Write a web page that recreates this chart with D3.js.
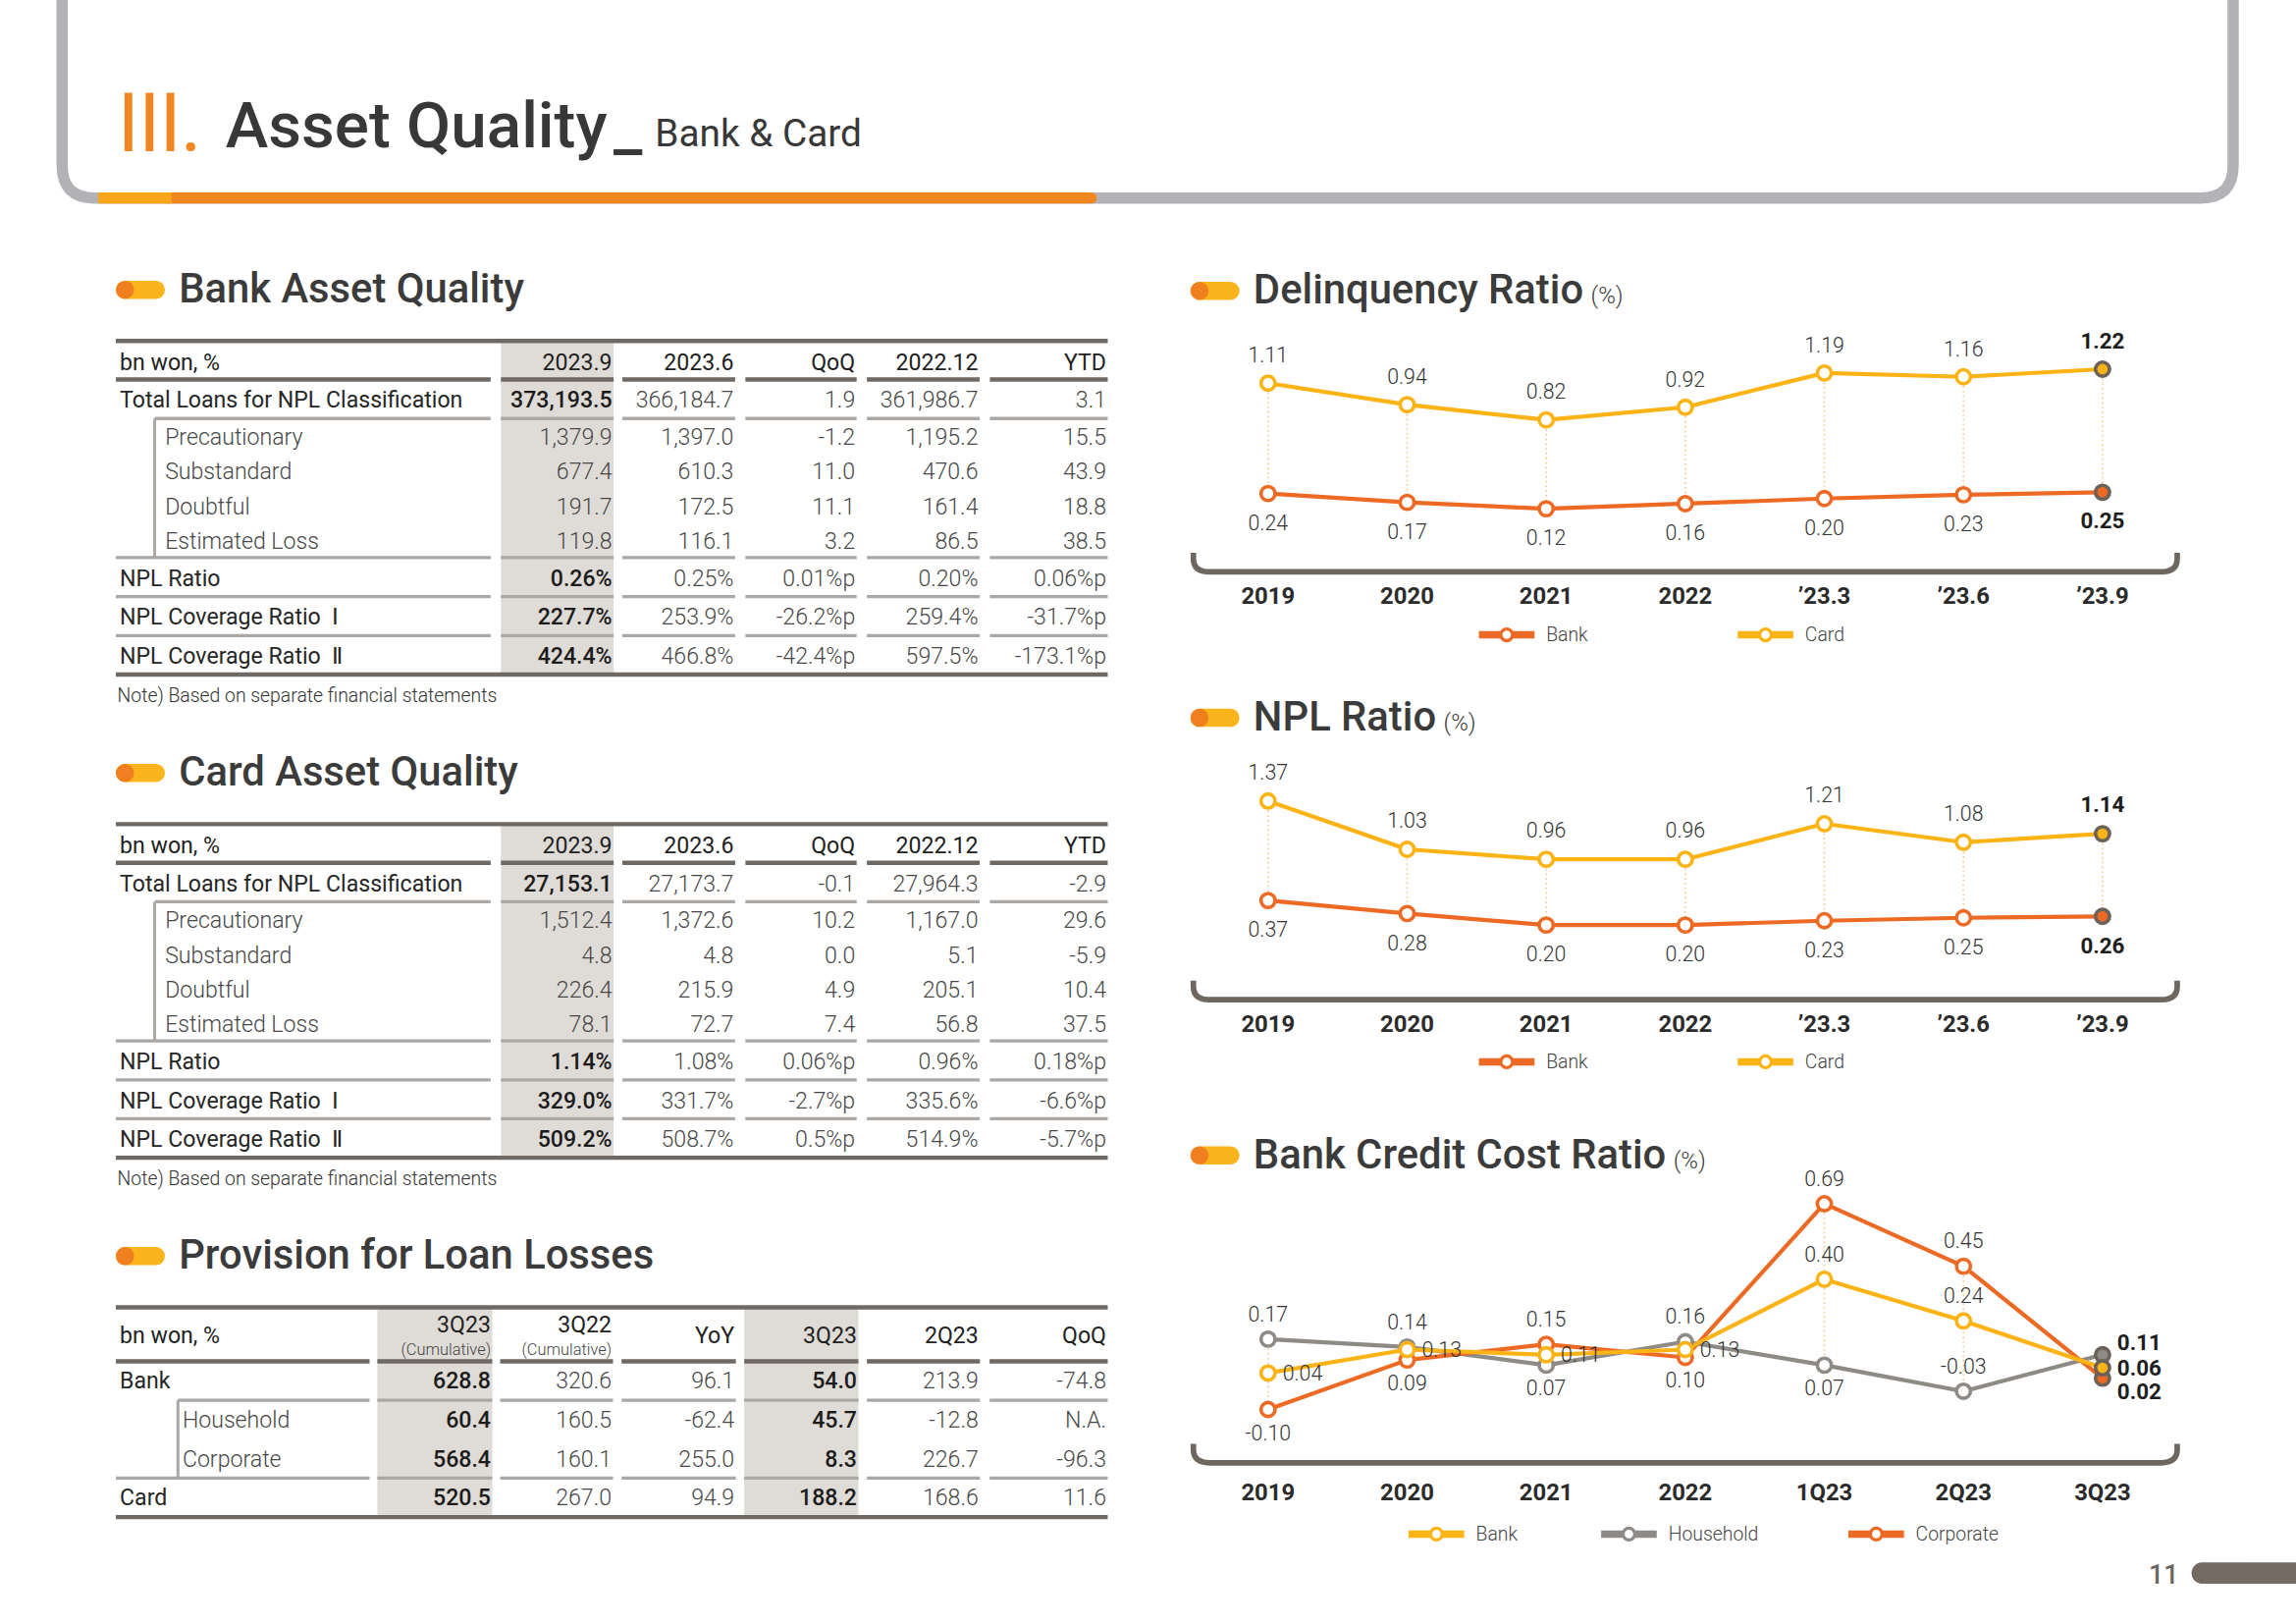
<!DOCTYPE html>
<html>
<head>
<meta charset="utf-8">
<script src="https://cdn.jsdelivr.net/npm/d3@7"></script>
<style>
  html, body { margin: 0; padding: 0; background: #fff; }
  svg { display: block; font-family: Roboto, 'Noto Sans', sans-serif; }
</style>
</head>
<body>
<script>
// ---------- data ----------
const bankCols = ['2023.9', '2023.6', 'QoQ', '2022.12', 'YTD'];
const assetRows = ['Total Loans for NPL Classification', 'Precautionary', 'Substandard', 'Doubtful',
  'Estimated Loss', 'NPL Ratio', 'NPL Coverage Ratio  Ⅰ', 'NPL Coverage Ratio  Ⅱ'];
const bankValues = [
  ['373,193.5', '366,184.7', '1.9', '361,986.7', '3.1'],
  ['1,379.9', '1,397.0', '-1.2', '1,195.2', '15.5'],
  ['677.4', '610.3', '11.0', '470.6', '43.9'],
  ['191.7', '172.5', '11.1', '161.4', '18.8'],
  ['119.8', '116.1', '3.2', '86.5', '38.5'],
  ['0.26%', '0.25%', '0.01%p', '0.20%', '0.06%p'],
  ['227.7%', '253.9%', '-26.2%p', '259.4%', '-31.7%p'],
  ['424.4%', '466.8%', '-42.4%p', '597.5%', '-173.1%p']
];
const cardValues = [
  ['27,153.1', '27,173.7', '-0.1', '27,964.3', '-2.9'],
  ['1,512.4', '1,372.6', '10.2', '1,167.0', '29.6'],
  ['4.8', '4.8', '0.0', '5.1', '-5.9'],
  ['226.4', '215.9', '4.9', '205.1', '10.4'],
  ['78.1', '72.7', '7.4', '56.8', '37.5'],
  ['1.14%', '1.08%', '0.06%p', '0.96%', '0.18%p'],
  ['329.0%', '331.7%', '-2.7%p', '335.6%', '-6.6%p'],
  ['509.2%', '508.7%', '0.5%p', '514.9%', '-5.7%p']
];
const provCols = ['3Q23', '3Q22', 'YoY', '3Q23', '2Q23', 'QoQ'];
const provColNotes = ['(Cumulative)', '(Cumulative)', '', '', '', ''];
const provRows = ['Bank', 'Household', 'Corporate', 'Card'];
const provValues = [
  ['628.8', '320.6', '96.1', '54.0', '213.9', '-74.8'],
  ['60.4', '160.5', '-62.4', '45.7', '-12.8', 'N.A.'],
  ['568.4', '160.1', '255.0', '8.3', '226.7', '-96.3'],
  ['520.5', '267.0', '94.9', '188.2', '168.6', '11.6']
];

const ratioCats = ['2019', '2020', '2021', '2022', '’23.3', '’23.6', '’23.9'];
const delinqBank = [0.24, 0.17, 0.12, 0.16, 0.20, 0.23, 0.25];
const delinqCard = [1.11, 0.94, 0.82, 0.92, 1.19, 1.16, 1.22];
const nplBank = [0.37, 0.28, 0.20, 0.20, 0.23, 0.25, 0.26];
const nplCard = [1.37, 1.03, 0.96, 0.96, 1.21, 1.08, 1.14];

const creditCats = ['2019', '2020', '2021', '2022', '1Q23', '2Q23', '3Q23'];
const creditBank = [0.04, 0.13, 0.11, 0.13, 0.40, 0.24, 0.06];
const creditHousehold = [0.17, 0.14, 0.07, 0.16, 0.07, -0.03, 0.11];
const creditCorporate = [-0.10, 0.09, 0.15, 0.10, 0.69, 0.45, 0.02];

// ---------- colours ----------
const orange = '#ec6a24';
const yellow = '#fbb316';
const gray = '#8e8a86';
const markDark = '#6b625a';
const lineDark = '#6e6964';
const lineLight = '#aaa7a4';
const shadeFill = '#dfdbd7';

// page is laid out in 1568 x 1109 units, scaled up to the window
const svg = d3.select('body').append('svg')
  .attr('width', 2339)
  .attr('height', 1654)
  .attr('viewBox', '0 0 1568 1109');

// ---------- header ----------
svg.append('path')
  .attr('d', 'M42.3,0 V113 Q42.3,135.2 64.5,135.2 H1503 Q1525.2,135.2 1525.2,113 V0')
  .attr('fill', 'none')
  .attr('stroke', '#b3b2b7')
  .attr('stroke-width', 7.7);
svg.append('rect').attr('x', 110).attr('y', 131.4).attr('width', 639).attr('height', 7.6)
  .attr('rx', 3.8).attr('fill', '#f28720');
svg.append('rect').attr('x', 67).attr('y', 131.4).attr('width', 50).attr('height', 7.6)
  .attr('fill', '#f9a61a');

svg.append('text')
  .attr('x', 80).attr('y', 103.3)
  .attr('font-size', 55.7).attr('font-weight', 400).attr('fill', '#f0861f')
  .attr('letter-spacing', -0.8)
  .text('III.');
const head = svg.append('text')
  .attr('x', 153.9).attr('y', 100.6)
  .attr('fill', '#383838')
  .style('white-space', 'pre');
head.append('tspan').attr('font-size', 44).attr('font-weight', 500).text('Asset Quality');
head.append('tspan').attr('x', 419).attr('y', 102).attr('font-size', 44).attr('font-weight', 500).text('_');
head.append('tspan').attr('x', 447.3).attr('y', 100.1).attr('font-size', 26).attr('font-weight', 400).text('Bank & Card');

// page number
svg.append('text').attr('x', 1488).attr('y', 1081.5).attr('text-anchor', 'end')
  .attr('font-size', 18).attr('font-weight', 500).attr('fill', '#6d6660').text('11');
svg.append('rect').attr('x', 1496.8).attr('y', 1067).attr('width', 90).attr('height', 14.5)
  .attr('rx', 7.2).attr('fill', '#736a62');

// ---------- section titles ----------
function sectionTitle(x, baseline, label, unit) {
  const g = svg.append('g');
  g.append('rect')
    .attr('x', x).attr('y', baseline - 15)
    .attr('width', 33.5).attr('height', 12.4).attr('rx', 6.2)
    .attr('fill', '#fbb41b');
  g.append('circle')
    .attr('cx', x + 6.2).attr('cy', baseline - 8.8).attr('r', 6.2)
    .attr('fill', '#f0801f');
  const t = g.append('text')
    .attr('x', x + 43).attr('y', baseline)
    .attr('font-size', 28).attr('font-weight', 500).attr('fill', '#3b3b3b')
    .text(label);
  if (unit) {
    t.append('tspan').attr('dx', 5).attr('font-size', 16).attr('font-weight', 300).text(unit);
  }
}

sectionTitle(79, 206.7, 'Bank Asset Quality');
sectionTitle(79, 536.7, 'Card Asset Quality');
sectionTitle(79, 866.6, 'Provision for Loan Losses');
sectionTitle(813, 207.4, 'Delinquency Ratio', '(%)');
sectionTitle(813, 499, 'NPL Ratio', '(%)');
sectionTitle(813, 797.8, 'Bank Credit Cost Ratio', '(%)');

// ---------- tables ----------
const assetColsX = [[79, 335], [342, 419], [425, 502], [509, 585], [592, 669], [676, 756.5]];
const provColsX = [[79, 252.3], [257.6, 336.1], [341.5, 418.6], [424.4, 502.5], [508.2, 586.2], [592, 669.2], [675.8, 756.5]];
const assetTypes = ['main', 'sub', 'sub', 'sub', 'sub', 'main', 'main', 'main'];
const provTypes = ['main', 'sub', 'sub', 'main'];

function drawTable(t) {
  const g = svg.append('g');
  const left = t.cols[0][0];
  const right = t.cols[t.cols.length - 1][1];

  // band edges: header, then one band per row
  const edges = [t.top, t.top + t.headH];
  t.types.forEach(k => edges.push(edges[edges.length - 1] + t.rowH[k]));
  const bottom = edges[edges.length - 1];

  g.selectAll('rect.shade')
    .data(t.shade)
    .join('rect')
    .attr('class', 'shade')
    .attr('x', i => t.cols[i][0])
    .attr('width', i => t.cols[i][1] - t.cols[i][0])
    .attr('y', t.top)
    .attr('height', bottom - t.top)
    .attr('fill', shadeFill);

  // inner rules, broken at every column
  const rules = [];
  for (let r = 1; r < edges.length - 1; r++) {
    const above = r === 1 ? 'head' : t.types[r - 2];
    const below = t.types[r - 1];
    if (above === 'sub' && below === 'sub') continue;
    rules.push({
      y: edges[r],
      color: r === 1 ? lineDark : lineLight,
      width: r === 1 ? 3 : 2.2,
      start: (above === 'main' && below === 'sub') ? t.bracketX : left
    });
  }
  rules.forEach(rule => {
    g.selectAll(null)
      .data(t.cols)
      .join('line')
      .attr('x1', (c, i) => i === 0 ? rule.start : c[0])
      .attr('x2', c => c[1])
      .attr('y1', rule.y).attr('y2', rule.y)
      .attr('stroke', rule.color)
      .attr('stroke-width', rule.width);
  });

  // top and bottom rules
  g.selectAll(null)
    .data([t.top, bottom])
    .join('line')
    .attr('x1', left).attr('x2', right)
    .attr('y1', d => d).attr('y2', d => d)
    .attr('stroke', lineDark)
    .attr('stroke-width', 3);

  // bracket for the sub rows
  const firstSub = t.types.indexOf('sub');
  const lastSub = t.types.lastIndexOf('sub');
  g.append('line')
    .attr('x1', t.bracketX).attr('x2', t.bracketX)
    .attr('y1', edges[firstSub + 1]).attr('y2', edges[lastSub + 2])
    .attr('stroke', lineLight).attr('stroke-width', 2);

  // header
  g.append('text')
    .attr('x', t.labelX).attr('y', t.top + t.headBase)
    .attr('font-size', 15.5).attr('fill', '#222')
    .text('bn won, %');
  g.selectAll('text.colhead')
    .data(t.headers)
    .join('text')
    .attr('class', 'colhead')
    .attr('x', (d, i) => t.cols[i + 1][1] - 1)
    .attr('y', (d, i) => t.top + (t.notes && t.notes[i] ? t.headBase1 : t.headBase))
    .attr('text-anchor', 'end')
    .attr('font-size', 15.5).attr('fill', '#222')
    .text(d => d);
  if (t.notes) {
    g.selectAll('text.colnote')
      .data(t.notes)
      .join('text')
      .attr('class', 'colnote')
      .attr('x', (d, i) => t.cols[i + 1][1] - 1)
      .attr('y', t.top + t.headBase2)
      .attr('text-anchor', 'end')
      .attr('font-size', 11).attr('font-weight', 300).attr('fill', '#444')
      .text(d => d);
  }

  // rows
  t.labels.forEach((label, r) => {
    const type = t.types[r];
    const base = edges[r + 2] - t.baseOff[type];
    g.append('text')
      .attr('x', type === 'sub' ? t.subX : t.labelX)
      .attr('y', base)
      .attr('font-size', 15.5)
      .attr('font-weight', type === 'sub' ? 300 : 400)
      .attr('fill', type === 'sub' ? '#474747' : '#262626')
      .style('white-space', 'pre')
      .text(label);
    g.selectAll(null)
      .data(t.values[r])
      .join('text')
      .attr('x', (d, j) => t.cols[j + 1][1] - 1)
      .attr('y', base)
      .attr('text-anchor', 'end')
      .attr('font-size', 15.5)
      .attr('font-weight', (d, j) => t.shade.includes(j + 1) && (type === 'main' || t.boldSubs) ? 500 : 300)
      .attr('fill', (d, j) => t.shade.includes(j + 1) && (type === 'main' || t.boldSubs) ? '#1c1c1c' : '#474747')
      .text(d => d);
  });

  if (t.note) {
    g.append('text')
      .attr('x', 80).attr('y', bottom + 19)
      .attr('font-size', 13).attr('font-weight', 300).attr('fill', '#333')
      .text(t.note);
  }
}

const assetLayout = {
  cols: assetColsX, shade: [1], types: assetTypes,
  headH: 26.4, rowH: { main: 26.6, sub: 23.75 }, baseOff: { main: 7.3, sub: 5.8 },
  headBase: 19.7, labelX: 81.7, subX: 112.6, bracketX: 105.5,
  note: 'Note) Based on separate financial statements'
};
drawTable(Object.assign({}, assetLayout, { top: 232.8, headers: bankCols, labels: assetRows, values: bankValues }));
drawTable(Object.assign({}, assetLayout, { top: 562.8, headers: bankCols, labels: assetRows, values: cardValues }));
drawTable({
  top: 892.7, cols: provColsX, shade: [1, 4], types: provTypes, boldSubs: true,
  headH: 36.9, rowH: { main: 26.6, sub: 26.6 }, baseOff: { main: 8, sub: 8 },
  headBase: 24.6, headBase1: 17.2, headBase2: 32.4,
  labelX: 81.7, subX: 124.5, bracketX: 121.4,
  headers: provCols, notes: provColNotes, labels: provRows, values: provValues
});

// ---------- line charts ----------
function lineChart(cfg) {
  const g = svg.append('g');
  const x = d3.scalePoint().domain(cfg.cats).range([866, 1436]);
  const last = cfg.cats.length - 1;

  // dotted drop lines joining the points of each period
  g.selectAll('line.guide')
    .data(cfg.cats)
    .join('line')
    .attr('class', 'guide')
    .attr('x1', d => x(d)).attr('x2', d => x(d))
    .attr('y1', (d, i) => d3.min(cfg.series, s => s.y(s.values[i])))
    .attr('y2', (d, i) => d3.max(cfg.series, s => s.y(s.values[i])))
    .attr('stroke', '#f2c98f')
    .attr('stroke-width', 1)
    .attr('stroke-dasharray', '1.2 2');

  g.selectAll('path.series')
    .data(cfg.series)
    .join('path')
    .attr('class', 'series')
    .attr('fill', 'none')
    .attr('stroke', s => s.color)
    .attr('stroke-width', 2.8)
    .attr('stroke-linejoin', 'round')
    .attr('d', s => d3.line().x((d, i) => x(cfg.cats[i])).y(d => s.y(d))(s.values));

  cfg.series.forEach(s => {
    g.selectAll(null)
      .data(s.values)
      .join('circle')
      .attr('cx', (d, i) => x(cfg.cats[i]))
      .attr('cy', d => s.y(d))
      .attr('r', 4.8)
      .attr('fill', (d, i) => i === last ? s.color : '#fff')
      .attr('stroke', (d, i) => i === last ? markDark : s.color)
      .attr('stroke-width', 2.4);
  });

  cfg.series.forEach(s => {
    const nudge = s.nudge || [];
    g.selectAll(null)
      .data(s.values)
      .join('text')
      .attr('x', (d, i) => x(cfg.cats[i]) + (s.place[i] === 'right' ? 10 : 0))
      .attr('y', (d, i) => s.y(d) + (nudge[i] || 0) +
        (s.place[i] === 'above' ? -cfg.above : s.place[i] === 'below' ? cfg.below : 5))
      .attr('text-anchor', (d, i) => s.place[i] === 'right' ? 'start' : 'middle')
      .attr('font-size', (d, i) => i === last ? 15 : 14.3)
      .attr('font-weight', (d, i) => i === last ? 700 : 300)
      .attr('fill', (d, i) => i === last ? '#1e1e1e' : '#333')
      .text(d => d.toFixed(2));
  });

  // bracket-shaped base line
  const by = cfg.bracketY;
  g.append('path')
    .attr('d', `M815,${by - 13} V${by - 9} Q815,${by} 826,${by} H1476 Q1487,${by} 1487,${by - 9} V${by - 13}`)
    .attr('fill', 'none')
    .attr('stroke', '#6e675f')
    .attr('stroke-width', 3.8);

  g.selectAll('text.tick')
    .data(cfg.cats)
    .join('text')
    .attr('class', 'tick')
    .attr('x', d => x(d))
    .attr('y', cfg.tickY)
    .attr('text-anchor', 'middle')
    .attr('font-size', 16)
    .attr('font-weight', 700)
    .attr('fill', '#2b2b2b')
    .text(d => d);

  // legend
  const lg = g.selectAll('g.legend')
    .data(cfg.legend)
    .join('g')
    .attr('class', 'legend')
    .attr('transform', d => `translate(${d.x},${cfg.legendY})`);
  lg.append('line')
    .attr('x1', -19).attr('x2', 19)
    .attr('stroke', d => d.color).attr('stroke-width', 5);
  lg.append('circle')
    .attr('r', 4).attr('fill', '#fff')
    .attr('stroke', d => d.color).attr('stroke-width', 2.2);
  lg.append('text')
    .attr('x', 27).attr('y', 4.6)
    .attr('font-size', 13).attr('font-weight', 300).attr('fill', '#444')
    .text(d => d.name);
}

const above = ['above', 'above', 'above', 'above', 'above', 'above', 'above'];
const below = ['below', 'below', 'below', 'below', 'below', 'below', 'below'];

// delinquency: one scale for both series
const yDelinq = d3.scaleLinear().domain([0.12, 1.22]).range([347.4, 252.1]);
lineChart({
  cats: ratioCats, bracketY: 390.5, tickY: 412.3, legendY: 433.5, above: 14.2, below: 24.8,
  series: [
    { values: delinqCard, color: yellow, y: yDelinq, place: above },
    { values: delinqBank, color: orange, y: yDelinq, place: below }
  ],
  legend: [{ name: 'Bank', color: orange, x: 1029 }, { name: 'Card', color: yellow, x: 1205.8 }]
});

// NPL ratio: the chart breaks the value axis between the two series
const yNplCard = d3.scaleLinear().domain([0.96, 1.37]).range([586.8, 547.0]);
const yNplBank = d3.scaleLinear().domain([0.20, 0.37]).range([631.7, 614.9]);
lineChart({
  cats: ratioCats, bracketY: 682.7, tickY: 705, legendY: 725.1, above: 14.8, below: 25,
  series: [
    { values: nplCard, color: yellow, y: yNplCard, place: above },
    { values: nplBank, color: orange, y: yNplBank, place: below }
  ],
  legend: [{ name: 'Bank', color: orange, x: 1029 }, { name: 'Card', color: yellow, x: 1205.8 }]
});

// credit cost
const yCredit = d3.scaleLinear().domain([-0.10, 0.69]).range([962.5, 822]);
lineChart({
  cats: creditCats, bracketY: 998.9, tickY: 1024.6, legendY: 1047.6, above: 12.3, below: 20.8,
  series: [
    { values: creditHousehold, color: gray, y: yCredit,
      place: ['above', 'above', 'below', 'above', 'below', 'above', 'right'],
      nudge: [0, 0, 0, 0, 0, 0, -8] },
    { values: creditCorporate, color: orange, y: yCredit,
      place: ['below', 'below', 'above', 'below', 'above', 'above', 'right'],
      nudge: [0, 0, 0, 0, 0, 0, 9] },
    { values: creditBank, color: yellow, y: yCredit,
      place: ['right', 'right', 'right', 'right', 'above', 'above', 'right'] }
  ],
  legend: [
    { name: 'Bank', color: yellow, x: 981 },
    { name: 'Household', color: gray, x: 1112.5 },
    { name: 'Corporate', color: orange, x: 1281.4 }
  ]
});
</script>
</body>
</html>
